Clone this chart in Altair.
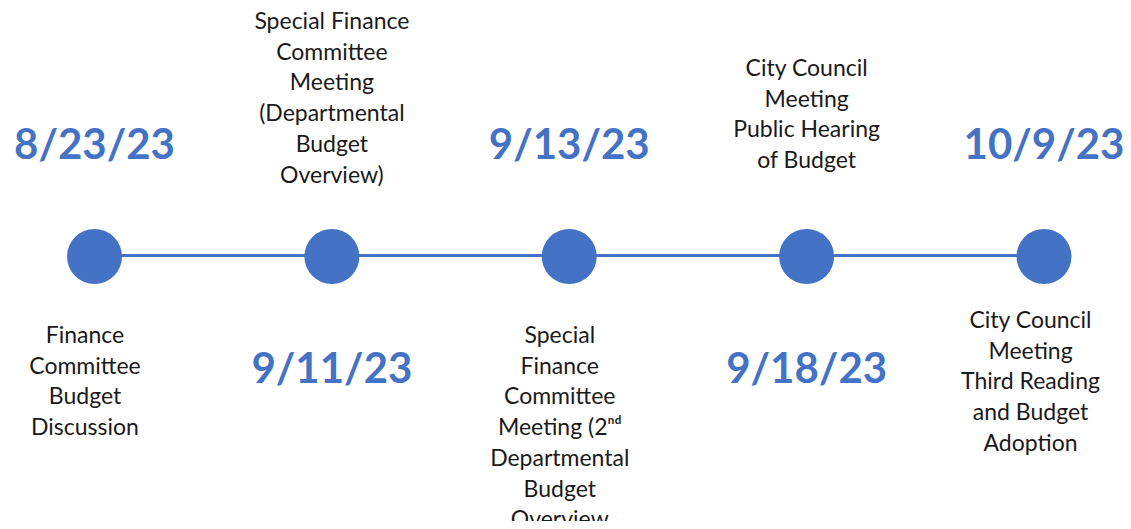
import altair as alt
import pandas as pd

# ---- data ----
dates = ["8/23/23", "9/11/23", "9/13/23", "9/18/23", "10/9/23"]
sides = ["above", "below", "above", "below", "above"]  # side of the date label
descriptions = [
    ["Finance", "Committee", "Budget", "Discussion"],
    ["Special Finance", "Committee", "Meeting", "(Departmental", "Budget", "Overview)"],
    ["Special", "Finance", "Committee", "Meeting (2\u207f\u1d48", "Departmental", "Budget", "Overview"],
    ["City Council", "Meeting", "Public Hearing", "of Budget"],
    ["City Council", "Meeting", "Third Reading", "and Budget", "Adoption"],
]

# ---- layout (pixel units, measured from top of plot area) ----
W, H = 1115, 513
SPACING = 237.375
X0 = 86.5
LINE_Y = 247.5
DOT_Y = 248.5
DATE_Y = {"above": 138, "below": 362}
DESC_FIRST_Y = [328, 14, 328, 61, 313]
DESC_DX = [-9.5, 0, -9.5, 0, -13.5]
LINE_H = 30.7
BLUE = "#4472C4"

idx = list(range(len(dates)))
events = pd.DataFrame({"i": idx, "date": dates,
                       "dy": [DATE_Y[s] for s in sides], "cy": [DOT_Y] * len(idx)})
rows = []
for i, lines in enumerate(descriptions):
    for k, t in enumerate(lines):
        rows.append({"x": i + DESC_DX[i] / SPACING, "y": DESC_FIRST_Y[i] + k * LINE_H, "t": t})
desc = pd.DataFrame(rows)

xs = alt.Scale(domain=[-X0 / SPACING, (W - X0) / SPACING])
ys = alt.Scale(domain=[0, H], reverse=True)

line = alt.Chart(pd.DataFrame({"a": [0], "b": [len(idx) - 1], "y": [LINE_Y]})).mark_rule(
    color=BLUE, strokeWidth=3
).encode(x=alt.X("a:Q", scale=xs, axis=None), x2="b:Q", y=alt.Y("y:Q", scale=ys, axis=None))

dots = alt.Chart(events).mark_circle(color=BLUE, opacity=1, size=3025).encode(
    x=alt.X("i:Q", scale=xs, axis=None), y=alt.Y("cy:Q", scale=ys, axis=None))

date_txt = alt.Chart(events).mark_text(
    font="Lato", fontWeight="bold", fontSize=42, color=BLUE, baseline="middle", align="center"
).encode(x=alt.X("i:Q", scale=xs, axis=None), y=alt.Y("dy:Q", scale=ys, axis=None), text="date:N")

desc_txt = alt.Chart(desc).mark_text(
    font="Lato", fontSize=23, color="#1a1a1a", baseline="middle", align="center"
).encode(x=alt.X("x:Q", scale=xs, axis=None), y=alt.Y("y:Q", scale=ys, axis=None), text="t:N")

chart = alt.layer(line, dots, date_txt, desc_txt).properties(
    width=W, height=H, autosize=alt.AutoSizeParams(type="none"), padding=0
).configure_view(stroke=None)

chart.save("out.html", embed_options={"renderer": "svg", "actions": False})
